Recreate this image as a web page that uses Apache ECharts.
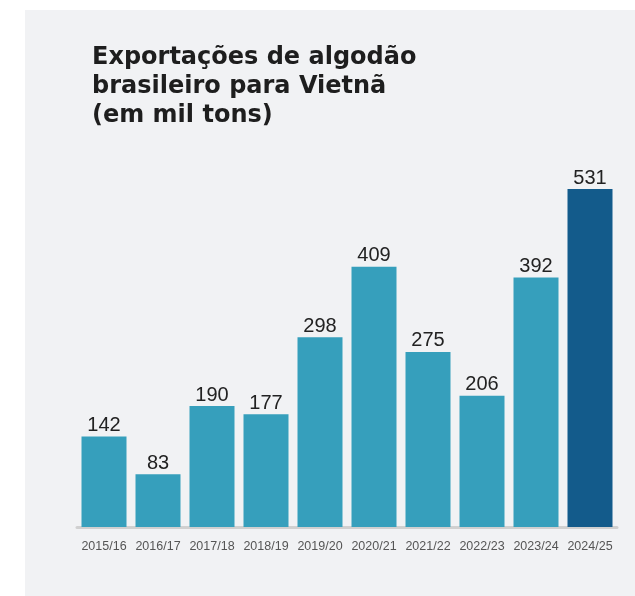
<!DOCTYPE html>
<html>
<head>
<meta charset="utf-8">
<script src="https://cdn.jsdelivr.net/npm/echarts@6/dist/echarts.min.js"></script>
<style>
html,body{margin:0;padding:0;background:#ffffff;}
#chart{width:635px;height:596px;}
</style>
</head>
<body>
<div id="chart"></div>
<script>
const categories = ["2015/16","2016/17","2017/18","2018/19","2019/20","2020/21","2021/22","2022/23","2023/24","2024/25"];
const values = [142, 83, 190, 177, 298, 409, 275, 206, 392, 531];
const titleText = "Exportações de algodão\nbrasileiro para Vietnã\n(em mil tons)";

const chart = echarts.init(document.getElementById('chart'), null, {renderer: 'canvas'});
const lastIdx = values.length - 1;
chart.setOption({
  animation: false,
  backgroundColor: '#ffffff',
  graphic: [{
    type: 'rect', z: -10, silent: true,
    shape: {x: 25, y: 10, width: 610, height: 586},
    style: {fill: '#f1f2f4'}
  }],
  title: {
    text: titleText,
    left: 87, top: 38,
    textStyle: {fontFamily: 'DejaVu Sans', fontWeight: 'bold', fontSize: 24, lineHeight: 29, color: '#1e1e1e'}
  },
  grid: {left: 77, right: 18, top: 189, bottom: 69},
  xAxis: {
    type: 'category', data: categories,
    axisLine: {show: true, lineStyle: {color: '#d0d0d0', width: 3}},
    axisTick: {show: false},
    axisLabel: {interval: 0, fontFamily: 'Liberation Sans', fontSize: 12.5, color: '#555555', margin: 13}
  },
  yAxis: {type: 'value', min: 0, max: 531, show: false, splitLine: {show: false}},
  series: [{
    type: 'bar', barWidth: 45,
    data: values.map((v, i) => ({value: v, itemStyle: {color: i === lastIdx ? '#135b8b' : '#369fbc'}})),
    label: {show: true, position: 'top', distance: 1, fontFamily: 'Liberation Sans', fontSize: 20, color: '#222222'}
  }]
});
</script>
</body>
</html>
